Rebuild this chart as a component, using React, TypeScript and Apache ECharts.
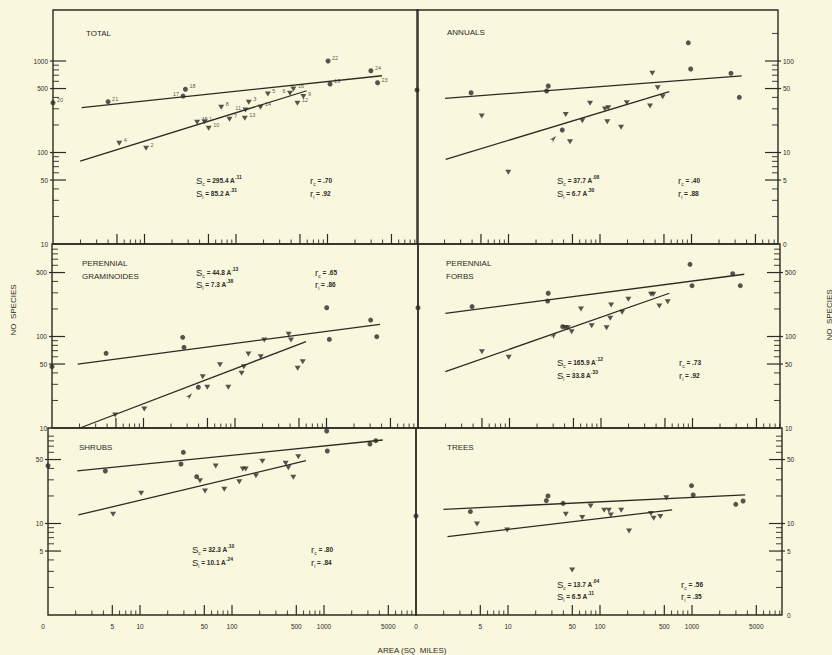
import React, { useEffect, useRef } from 'react';
import * as echarts from 'echarts';

type Pt = [number, number];

const INK = '#2b2a24';
const BG = '#f9f8de';
const FONT = '"Liberation Sans", Arial, sans-serif';
const DECADE_Y = 91.5;

// ---------- TOTAL ----------
const TOTAL_C: Pt[] = [[1, 350], [4.0, 359], [26.4, 414], [28, 491], [1014, 1000], [1067, 561], [2980, 783], [3525, 579]];
const TOTAL_C_NAMES = ['20', '21', '17', '18', '22', '19', '24', '23'];
const TOTAL_I: Pt[] = [[5.3, 126], [10.4, 111], [37.6, 214], [45.2, 217], [50.3, 184], [84.9, 231], [68.9, 312], [124.8, 237], [127, 291], [138, 354], [185, 312], [223, 436], [389, 443], [424, 494], [469, 345], [545, 408]];
const TOTAL_I_NAMES = ['4', '2', '15', '1', '10', '7', '8', '13', '11', '3', '14', '5', '6', '16', '12', '9'];
const TOTAL_FIT_C: Pt[] = [[2.06, 309], [3935, 690]];
const TOTAL_FIT_I: Pt[] = [[1.98, 80.7], [593, 473]];
const TOTAL_EQ = ['295.4', '.11', '85.2', '.31', '.70', '.92'];

// ---------- ANNUALS ----------
const ANNUALS_C: Pt[] = [[1, 48.2], [3.9, 45], [27.2, 53.3], [26.1, 47], [923, 158], [980, 81.8], [2700, 73.3], [3330, 40.1], [38.7, 17.6]];
const ANNUALS_I: Pt[] = [[5.1, 25], [9.95, 6.1], [42.2, 26.1], [47, 13.1], [64.1, 22.3], [77.8, 34.5], [113.4, 29.9], [123, 30.9], [120, 21.7], [170, 18.9], [196, 35], [352, 32.2], [373, 73.3], [427, 51.1], [484, 40.7]];
const ANNUALS_FIT_C: Pt[] = [[2.02, 39.1], [3540, 68.6]];
const ANNUALS_FIT_I: Pt[] = [[2.06, 8.42], [572, 46.2]];
const ANNUALS_ARROW: Pt[] = [[38.7, 17.6]];
const ANNUALS_EQ = ['37.7', '.08', '6.7', '.30', '.40', '.88'];

// ---------- PERENNIAL GRAMINOIDES ----------
const GRAM_C: Pt[] = [[1, 46.8], [3.9, 65.5], [26.8, 98], [27.7, 76.2], [1005, 206], [1074, 93], [3040, 151], [3540, 99.6], [39.7, 27.9]];
const GRAM_I: Pt[] = [[4.9, 13.9], [10.2, 16.1], [44.4, 36.4], [49.8, 27.9], [68.5, 49.2], [84.5, 27.9], [118, 39.6], [125, 46.8], [140, 64.4], [191, 60.1], [209, 91.6], [386, 106], [409, 91.6], [484, 44.9], [550, 53]];
const GRAM_FIT_C: Pt[] = [[1.91, 50], [3845, 136]];
const GRAM_FIT_I: Pt[] = [[2.02, 10], [597, 87.7]];
const GRAM_ARROW: Pt[] = [[39.7, 27.9]];
const GRAM_EQ = ['44.8', '.13', '7.3', '.38', '.65', '.86'];

// ---------- PERENNIAL FORBS ----------
const FORBS_C: Pt[] = [[1, 206], [3.9, 212], [26.5, 297], [26.1, 244], [939, 615], [988, 359], [2750, 485], [3330, 359], [38.1, 128]];
const FORBS_I: Pt[] = [[5.0, 68.2], [9.8, 59.2], [40.7, 125], [43.3, 125], [47.8, 113], [60.4, 200], [79.1, 131], [115, 125], [129, 221], [126, 158], [170, 184], [199, 255], [352, 289], [373, 290], [434, 215], [536, 240]];
const FORBS_FIT_C: Pt[] = [[1.99, 179], [3680, 479]];
const FORBS_FIT_I: Pt[] = [[1.99, 41.2], [558, 297]];
const FORBS_ARROW: Pt[] = [[38.1, 128]];
const FORBS_EQ = ['165.9', '.12', '33.8', '.33', '.73', '.92'];

// ---------- SHRUBS ----------
const SHRUBS_C: Pt[] = [[1, 42.8], [4.2, 37.5], [29.6, 60], [27.9, 44.7], [1070, 102.6], [1086, 62], [3160, 73.9], [3650, 80.4], [41.3, 32.5]];
const SHRUBS_I: Pt[] = [[5.1, 12.6], [10.3, 21.4], [44.9, 29.4], [50.9, 22.7], [66.5, 42.5], [82.4, 23.7], [120, 28.6], [131, 39.4], [141, 39.4], [182, 33.3], [214, 47.8], [383, 45.5], [410, 40.7], [464, 32], [526, 53.7]];
const SHRUBS_FIT_C: Pt[] = [[2.08, 37.5], [4350, 81.8]];
const SHRUBS_FIT_I: Pt[] = [[2.14, 12.4], [637, 48.6]];
const SHRUBS_EQ = ['32.3', '.10', '10.1', '.24', '.80', '.84'];

// ---------- TREES ----------
const TREES_C: Pt[] = [[1, 12.1], [3.9, 13.5], [27.2, 20], [26.1, 17.8], [988, 25.9], [1030, 20.5], [2990, 16.2], [3590, 17.6], [39.7, 16.6]];
const TREES_I: Pt[] = [[4.6, 9.9], [9.8, 8.5], [42.5, 12.6], [49.8, 3.1], [64.1, 11.6], [79.1, 15.5], [111, 14], [125, 14], [131, 12.4], [170, 14], [207, 8.3], [358, 12.9], [383, 11.4], [452, 11.9], [526, 19.1]];
const TREES_FIT_C: Pt[] = [[1.99, 14.3], [3780, 20.5]];
const TREES_FIT_I: Pt[] = [[2.2, 7.2], [608, 14.1]];
const TREES_EQ = ['13.7', '.04', '6.5', '.11', '.56', '.35'];

// ---------- ticks & labels ----------
const X_LABEL_VALUES = [1, 5, 10, 50, 100, 500, 1000, 5000];
const X_LABEL_TEXTS = ['0', '5', '10', '50', '100', '500', '1000', '5000'];
const X_MAJOR_TICKS = [5, 10, 50, 100, 500, 1000, 5000];
const MINOR_MULTIPLES = [2, 3, 4, 6, 7, 8, 9];
const DECADES = [1, 10, 100, 1000];

const TOTAL_Y_VALUES = [10, 50, 100, 500, 1000];
const TOTAL_Y_TEXTS = ['10', '50', '100', '500', '1000'];
const ANNUALS_Y_VALUES = [1, 5, 10, 50, 100];
const ANNUALS_Y_TEXTS = ['0', '5', '10', '50', '100'];
const MID_Y_VALUES = [10, 50, 100, 500];
const MID_Y_TEXTS = ['10', '50', '100', '500'];
const SHRUBS_Y_VALUES = [5, 10, 50];
const SHRUBS_Y_TEXTS = ['5', '10', '50'];
const TREES_Y_VALUES = [1, 5, 10, 50];
const TREES_Y_TEXTS = ['0', '5', '10', '50'];

type Panel = {
  title: string[]; tx: number; ty: number;
  left: number; top: number; width: number; height: number; dx: number;
  yMin: number; yTickTop?: number; side: 'left' | 'right';
  circles: Pt[]; tris: Pt[]; fitC: Pt[]; fitI: Pt[]; arrows?: Pt[];
  cNames?: string[]; iNames?: string[];
  yVals: number[]; yTexts: string[]; xLabels: boolean;
  eq: string[]; ex: number; ey: number; rx: number; lh: number;
};

const PANELS: Panel[] = [
  { title: ['TOTAL'], tx: 86, ty: 33, left: 53, top: 10, width: 365, height: 234, dx: 91.5, yMin: 10, yTickTop: 1000, side: 'left',
    circles: TOTAL_C, tris: TOTAL_I, fitC: TOTAL_FIT_C, fitI: TOTAL_FIT_I, cNames: TOTAL_C_NAMES, iNames: TOTAL_I_NAMES,
    yVals: TOTAL_Y_VALUES, yTexts: TOTAL_Y_TEXTS, xLabels: false, eq: TOTAL_EQ, ex: 196, ey: 180, rx: 310, lh: 13 },
  { title: ['ANNUALS'], tx: 447, ty: 32, left: 417, top: 10, width: 361, height: 234, dx: 91.5, yMin: 1, yTickTop: 200, side: 'right',
    circles: ANNUALS_C, tris: ANNUALS_I, fitC: ANNUALS_FIT_C, fitI: ANNUALS_FIT_I, arrows: ANNUALS_ARROW,
    yVals: ANNUALS_Y_VALUES, yTexts: ANNUALS_Y_TEXTS, xLabels: false, eq: ANNUALS_EQ, ex: 557, ey: 180, rx: 678, lh: 13 },
  { title: ['PERENNIAL', 'GRAMINOIDES'], tx: 82, ty: 263, left: 52, top: 244, width: 366, height: 184, dx: 91.5, yMin: 10, side: 'left',
    circles: GRAM_C, tris: GRAM_I, fitC: GRAM_FIT_C, fitI: GRAM_FIT_I, arrows: GRAM_ARROW,
    yVals: MID_Y_VALUES, yTexts: MID_Y_TEXTS, xLabels: false, eq: GRAM_EQ, ex: 196, ey: 272, rx: 315, lh: 12.5 },
  { title: ['PERENNIAL', 'FORBS'], tx: 446, ty: 263, left: 418, top: 244, width: 362, height: 184, dx: 91.5, yMin: 10, side: 'right',
    circles: FORBS_C, tris: FORBS_I, fitC: FORBS_FIT_C, fitI: FORBS_FIT_I, arrows: FORBS_ARROW,
    yVals: MID_Y_VALUES, yTexts: MID_Y_TEXTS, xLabels: false, eq: FORBS_EQ, ex: 557, ey: 362, rx: 679, lh: 13 },
  { title: ['SHRUBS'], tx: 79, ty: 447, left: 48, top: 428, width: 368, height: 187, dx: 92, yMin: 1, side: 'left',
    circles: SHRUBS_C, tris: SHRUBS_I, fitC: SHRUBS_FIT_C, fitI: SHRUBS_FIT_I,
    yVals: SHRUBS_Y_VALUES, yTexts: SHRUBS_Y_TEXTS, xLabels: true, eq: SHRUBS_EQ, ex: 192, ey: 549, rx: 311, lh: 13.5 },
  { title: ['TREES'], tx: 447, ty: 447, left: 416, top: 428, width: 366, height: 187, dx: 92, yMin: 1, side: 'right',
    circles: TREES_C, tris: TREES_I, fitC: TREES_FIT_C, fitI: TREES_FIT_I,
    yVals: TREES_Y_VALUES, yTexts: TREES_Y_TEXTS, xLabels: true, eq: TREES_EQ, ex: 557, ey: 584, rx: 681, lh: 12.5 },
];

const LEFT_LABELED = ['17', '11', '6'];

function buildOption() {
  const grid: any[] = [];
  const xAxis: any[] = [];
  const yAxis: any[] = [];
  const series: any[] = [];
  const graphic: any[] = [];

  const rich = {
    s: { fontSize: 9.5, fontFamily: FONT, fill: INK, color: INK, lineHeight: 12, verticalAlign: 'middle' },
    b: { fontSize: 5, fontFamily: FONT, fill: INK, color: INK, lineHeight: 12, verticalAlign: 'bottom' },
    t: { fontSize: 6.5, fontFamily: FONT, fontWeight: 'bold', fill: INK, color: INK, lineHeight: 12, verticalAlign: 'middle' },
    p: { fontSize: 5, fontFamily: FONT, fontWeight: 'bold', fill: INK, color: INK, lineHeight: 12, verticalAlign: 'top' },
  };

  PANELS.forEach((p, i) => {
    const xMax = Math.pow(10, p.width / p.dx);
    const yMax = p.yMin * Math.pow(10, p.height / DECADE_Y);
    grid.push({ left: p.left, top: p.top, width: p.width, height: p.height, show: true, borderColor: INK, borderWidth: 1.4, backgroundColor: 'transparent' });
    xAxis.push({ type: 'log', logBase: 10, gridIndex: i, min: 1, max: xMax, axisLine: { show: false }, axisTick: { show: false }, axisLabel: { show: false }, splitLine: { show: false } });
    yAxis.push({ type: 'log', logBase: 10, gridIndex: i, min: p.yMin, max: yMax, axisLine: { show: false }, axisTick: { show: false }, axisLabel: { show: false }, splitLine: { show: false } });

    // x ticks (bottom, pointing up)
    const xTicks: number[][] = [];
    X_MAJOR_TICKS.forEach(v => { if (v > 1 && v < xMax) xTicks.push([v, p.yMin, 10]); });
    DECADES.forEach(d => MINOR_MULTIPLES.forEach(m => { const v = d * m; if (v > 1 && v < xMax) xTicks.push([v, p.yMin, 4.5]); }));
    series.push({
      type: 'custom', xAxisIndex: i, yAxisIndex: i, clip: false, silent: true, z: 3, data: xTicks,
      renderItem: (_: any, api: any) => {
        const c = api.coord([api.value(0), api.value(1)]);
        const len = api.value(2);
        return { type: 'line', shape: { x1: c[0], y1: c[1], x2: c[0], y2: c[1] - len }, style: { stroke: INK, lineWidth: len > 6 ? 1.2 : 0.9 } };
      },
    });

    // y ticks
    const edgeX = p.side === 'left' ? 1 : xMax;
    const yTop = Math.min(yMax, p.yTickTop ?? yMax) * 1.0001;
    const yTicks: number[][] = [];
    p.yVals.forEach(v => { if (v > p.yMin * 1.001 && v < yTop) yTicks.push([edgeX, v, 13]); });
    [1, 10, 100, 1000].forEach(d => MINOR_MULTIPLES.forEach(m => { const v = d * m; if (v > p.yMin && v < yTop && v < yMax) yTicks.push([edgeX, v, 6]); }));
    const dir = p.side === 'left' ? 1 : -1;
    series.push({
      type: 'custom', xAxisIndex: i, yAxisIndex: i, clip: false, silent: true, z: 3, data: yTicks,
      renderItem: (_: any, api: any) => {
        const c = api.coord([api.value(0), api.value(1)]);
        const len = api.value(2);
        const out = len > 8 ? 3 : 0;
        return { type: 'line', shape: { x1: c[0] - dir * out, y1: c[1], x2: c[0] + dir * len, y2: c[1] }, style: { stroke: INK, lineWidth: len > 8 ? 1.2 : 0.9 } };
      },
    });

    // y labels
    series.push({
      type: 'custom', xAxisIndex: i, yAxisIndex: i, clip: false, silent: true, z: 3,
      data: p.yVals.map((v, k) => [edgeX, v, k]),
      renderItem: (_: any, api: any) => {
        const c = api.coord([api.value(0), api.value(1)]);
        const text = p.yTexts[api.value(2)];
        const align = p.side === 'left' ? 'right' : 'left';
        return { type: 'text', x: c[0] - dir * 5, y: c[1], style: { text, fill: INK, font: `6.5px ${FONT}`, align, verticalAlign: 'middle', textAlign: align, textVerticalAlign: 'middle' } };
      },
    });

    if (p.xLabels) {
      series.push({
        type: 'custom', xAxisIndex: i, yAxisIndex: i, clip: false, silent: true, z: 3,
        data: X_LABEL_VALUES.map((v, k) => [v, p.yMin, k]),
        renderItem: (_: any, api: any) => {
          const c = api.coord([api.value(0), api.value(1)]);
          const text = X_LABEL_TEXTS[api.value(2)];
          const shift = api.value(0) === 1 && p.side === 'left' ? -5 : 0;
          return { type: 'text', x: c[0] + shift, y: c[1] + 11, style: { text, fill: INK, font: `6.5px ${FONT}`, align: 'center', verticalAlign: 'middle', textAlign: 'center', textVerticalAlign: 'middle' } };
        },
      });
    }

    // fit lines
    [p.fitC, p.fitI].forEach(fit => {
      series.push({ type: 'line', xAxisIndex: i, yAxisIndex: i, data: fit, showSymbol: false, symbol: 'none', silent: true, clip: false, lineStyle: { color: INK, width: 1.3 }, z: 4 });
    });

    // markers
    const labelled = (pts: Pt[], names?: string[]) => pts.map((v, k) => {
      const name = names ? names[k] : '';
      const left = LEFT_LABELED.includes(name);
      return { value: v, name, label: { position: left ? 'left' : 'right', offset: left ? [0, -2] : [0, -3] } };
    });
    const lab = { show: !!p.cNames, formatter: '{b}', fontSize: 5.5, fontFamily: FONT, color: INK, distance: 1.5 };
    series.push({ type: 'scatter', xAxisIndex: i, yAxisIndex: i, clip: false, symbol: 'circle', symbolSize: 5, itemStyle: { color: INK }, label: lab, data: labelled(p.circles, p.cNames), z: 5 });
    series.push({ type: 'scatter', xAxisIndex: i, yAxisIndex: i, clip: false, symbol: 'triangle', symbolRotate: 180, symbolSize: [6, 5], itemStyle: { color: INK }, label: { ...lab, show: !!p.iNames }, data: labelled(p.tris, p.iNames), z: 5 });

    if (p.arrows) {
      series.push({ type: 'scatter', xAxisIndex: i, yAxisIndex: i, clip: false, silent: true, symbol: 'arrow', symbolRotate: -45, symbolSize: [3, 7], symbolOffset: [-6, 6], itemStyle: { color: INK }, data: p.arrows, z: 5 });
    }

    // titles
    p.title.forEach((t, k) => {
      graphic.push({ type: 'text', x: p.tx, y: p.ty + k * 13.5, style: { text: t, fill: INK, font: `8px ${FONT}`, align: 'left', verticalAlign: 'middle', textAlign: 'left', textVerticalAlign: 'middle' } });
    });

    // equations
    const [a1, e1, a2, e2, r1, r2] = p.eq;
    const eqLines = [
      { x: p.ex, y: p.ey, text: `{s|S}{b|c}{t| = ${a1} A}{p|${e1}}` },
      { x: p.ex, y: p.ey + p.lh, text: `{s|S}{b|i}{t| = ${a2} A}{p|${e2}}` },
      { x: p.rx, y: p.ey, text: `{s|r}{b|c}{t| = ${r1}}` },
      { x: p.rx, y: p.ey + p.lh, text: `{s|r}{b|i}{t| = ${r2}}` },
    ];
    eqLines.forEach(l => {
      graphic.push({ type: 'text', x: l.x, y: l.y, style: { text: l.text, rich, fill: INK, font: `6.5px ${FONT}`, align: 'left', verticalAlign: 'middle', textAlign: 'left', textVerticalAlign: 'middle' } });
    });
  });

  graphic.push({ type: 'text', x: 13, y: 310, rotation: Math.PI / 2, style: { text: 'NO  SPECIES', fill: INK, font: `8px ${FONT}`, align: 'center', verticalAlign: 'middle', textAlign: 'center', textVerticalAlign: 'middle' } });
  graphic.push({ type: 'text', x: 829, y: 315, rotation: Math.PI / 2, style: { text: 'NO  SPECIES', fill: INK, font: `8px ${FONT}`, align: 'center', verticalAlign: 'middle', textAlign: 'center', textVerticalAlign: 'middle' } });
  graphic.push({ type: 'text', x: 412, y: 650, style: { text: 'AREA (SQ  MILES)', fill: INK, font: `8px ${FONT}`, align: 'center', verticalAlign: 'middle', textAlign: 'center', textVerticalAlign: 'middle' } });

  return { animation: false, backgroundColor: BG, grid, xAxis, yAxis, series, graphic };
}

export default function App() {
  const ref = useRef<HTMLDivElement>(null);
  useEffect(() => {
    document.body.style.margin = '0';
    document.body.style.background = BG;
    if (!ref.current) return;
    const chart = echarts.init(ref.current, undefined, { renderer: 'svg' });
    chart.setOption(buildOption() as any);
    return () => chart.dispose();
  }, []);
  return <div ref={ref} style={{ width: 832, height: 655 }} />;
}
